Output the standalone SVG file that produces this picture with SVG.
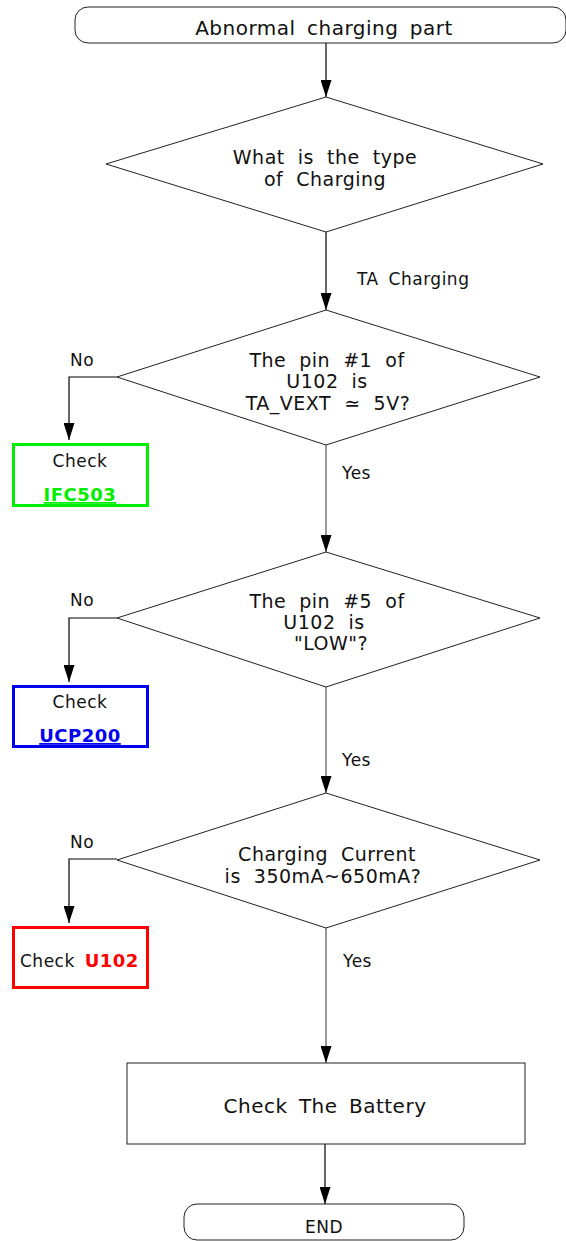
<svg xmlns="http://www.w3.org/2000/svg" width="566" height="1241" viewBox="0 0 566 1241">
<defs>
<marker id="ah" viewBox="0 0 17 11" refX="17" refY="5.5" markerWidth="17" markerHeight="11" orient="auto" markerUnits="userSpaceOnUse">
<path d="M0,0 L17,5.5 L0,11 z" fill="#000"/>
</marker>
<style>
.sh{fill:#fff;stroke:#222;stroke-width:1}
.t{font-family:"DejaVu Sans",Verdana,sans-serif;font-size:20px;letter-spacing:0.5px;word-spacing:4.5px;fill:#111;text-anchor:middle}
.q{font-family:"DejaVu Sans",Verdana,sans-serif;font-size:19px;letter-spacing:0.5px;word-spacing:6.5px;fill:#111;text-anchor:middle}
.s{font-family:"DejaVu Sans",Verdana,sans-serif;font-size:17px;letter-spacing:0.5px;word-spacing:4px;fill:#111}
.b{font-family:"DejaVu Sans",Verdana,sans-serif;font-size:18px;font-weight:bold;letter-spacing:0.5px;text-decoration:underline}
.c{fill:none;stroke:#000;stroke-width:1.2;marker-end:url(#ah)}
.cg{fill:none;stroke:#555;stroke-width:1.2;marker-end:url(#ah)}
</style>
</defs>
<g id="connectors">
<line class="c" x1="326" y1="43" x2="326" y2="97"/>
<line class="c" x1="326" y1="232" x2="326" y2="310"/>
<path class="c" d="M117,377 H69 V440"/>
<line class="cg" x1="326" y1="445" x2="326" y2="552"/>
<path class="c" d="M117,618 H69 V682"/>
<line class="cg" x1="326" y1="687" x2="326" y2="793"/>
<path class="c" d="M117,859 H69 V923"/>
<line class="cg" x1="326" y1="928" x2="326" y2="1063"/>
<line class="c" x1="325" y1="1144" x2="325" y2="1204"/>
<text class="s" x="357" y="285">TA Charging</text>
<text class="s" x="70" y="366">No</text>
<text class="s" x="342" y="479">Yes</text>
<text class="s" x="70" y="606">No</text>
<text class="s" x="342" y="766">Yes</text>
<text class="s" x="70" y="848">No</text>
<text class="s" x="343" y="967">Yes</text>
</g>
<g id="start">
<rect class="sh" x="75" y="7" width="491" height="36" rx="13" ry="13"/>
<text class="t" x="324" y="35">Abnormal charging part</text>
</g>
<g id="d1">
<polygon class="sh" points="326,97 543,164 326,232 106,164"/>
<text class="q" x="325" y="164">What is the type</text>
<text class="q" x="325" y="186">of Charging</text>
</g>
<g id="d2">
<polygon class="sh" points="326,310 540,377 326,445 117,377"/>
<text class="q" x="327" y="367">The pin #1 of</text>
<text class="q" x="327" y="388">U102 is</text>
<text class="q" x="328" y="410">TA_VEXT ≃ 5V?</text>
</g>
<g id="box1">
<rect x="13.5" y="444.5" width="134" height="61" fill="#fff" stroke="#00ee00" stroke-width="3"/>
<text class="s" x="80" y="467" text-anchor="middle">Check</text>
<text class="b" x="80" y="501" text-anchor="middle" fill="#00ee00">IFC503</text>
</g>
<g id="d3">
<polygon class="sh" points="326,552 540,618 326,687 117,618"/>
<text class="q" x="327" y="608">The pin #5 of</text>
<text class="q" x="324" y="629">U102 is</text>
<text class="q" x="331" y="650">"LOW"?</text>
</g>
<g id="box2">
<rect x="13.5" y="686.5" width="134" height="60" fill="#fff" stroke="#0000ee" stroke-width="3"/>
<text class="s" x="80" y="708" text-anchor="middle">Check</text>
<text class="b" x="80" y="742" text-anchor="middle" fill="#0000ee">UCP200</text>
</g>
<g id="d4">
<polygon class="sh" points="326,793 540,860 326,928 117,860"/>
<text class="q" x="327" y="861">Charging Current</text>
<text class="q" x="323" y="883">is 350mA~650mA?</text>
</g>
<g id="box3">
<rect x="13.5" y="927.5" width="134" height="60" fill="#fff" stroke="#ff0000" stroke-width="3"/>
<text x="20" y="967" class="s">Check <tspan font-weight="bold" font-size="18" fill="#ff0000">U102</tspan></text>
</g>
<g id="battery">
<rect class="sh" x="127" y="1063" width="398" height="81"/>
<text class="t" x="325" y="1113">Check The Battery</text>
</g>
<g id="end">
<rect class="sh" x="184" y="1204" width="280" height="36" rx="13" ry="13"/>
<text class="s" x="324" y="1233" text-anchor="middle">END</text>
</g>
</svg>
